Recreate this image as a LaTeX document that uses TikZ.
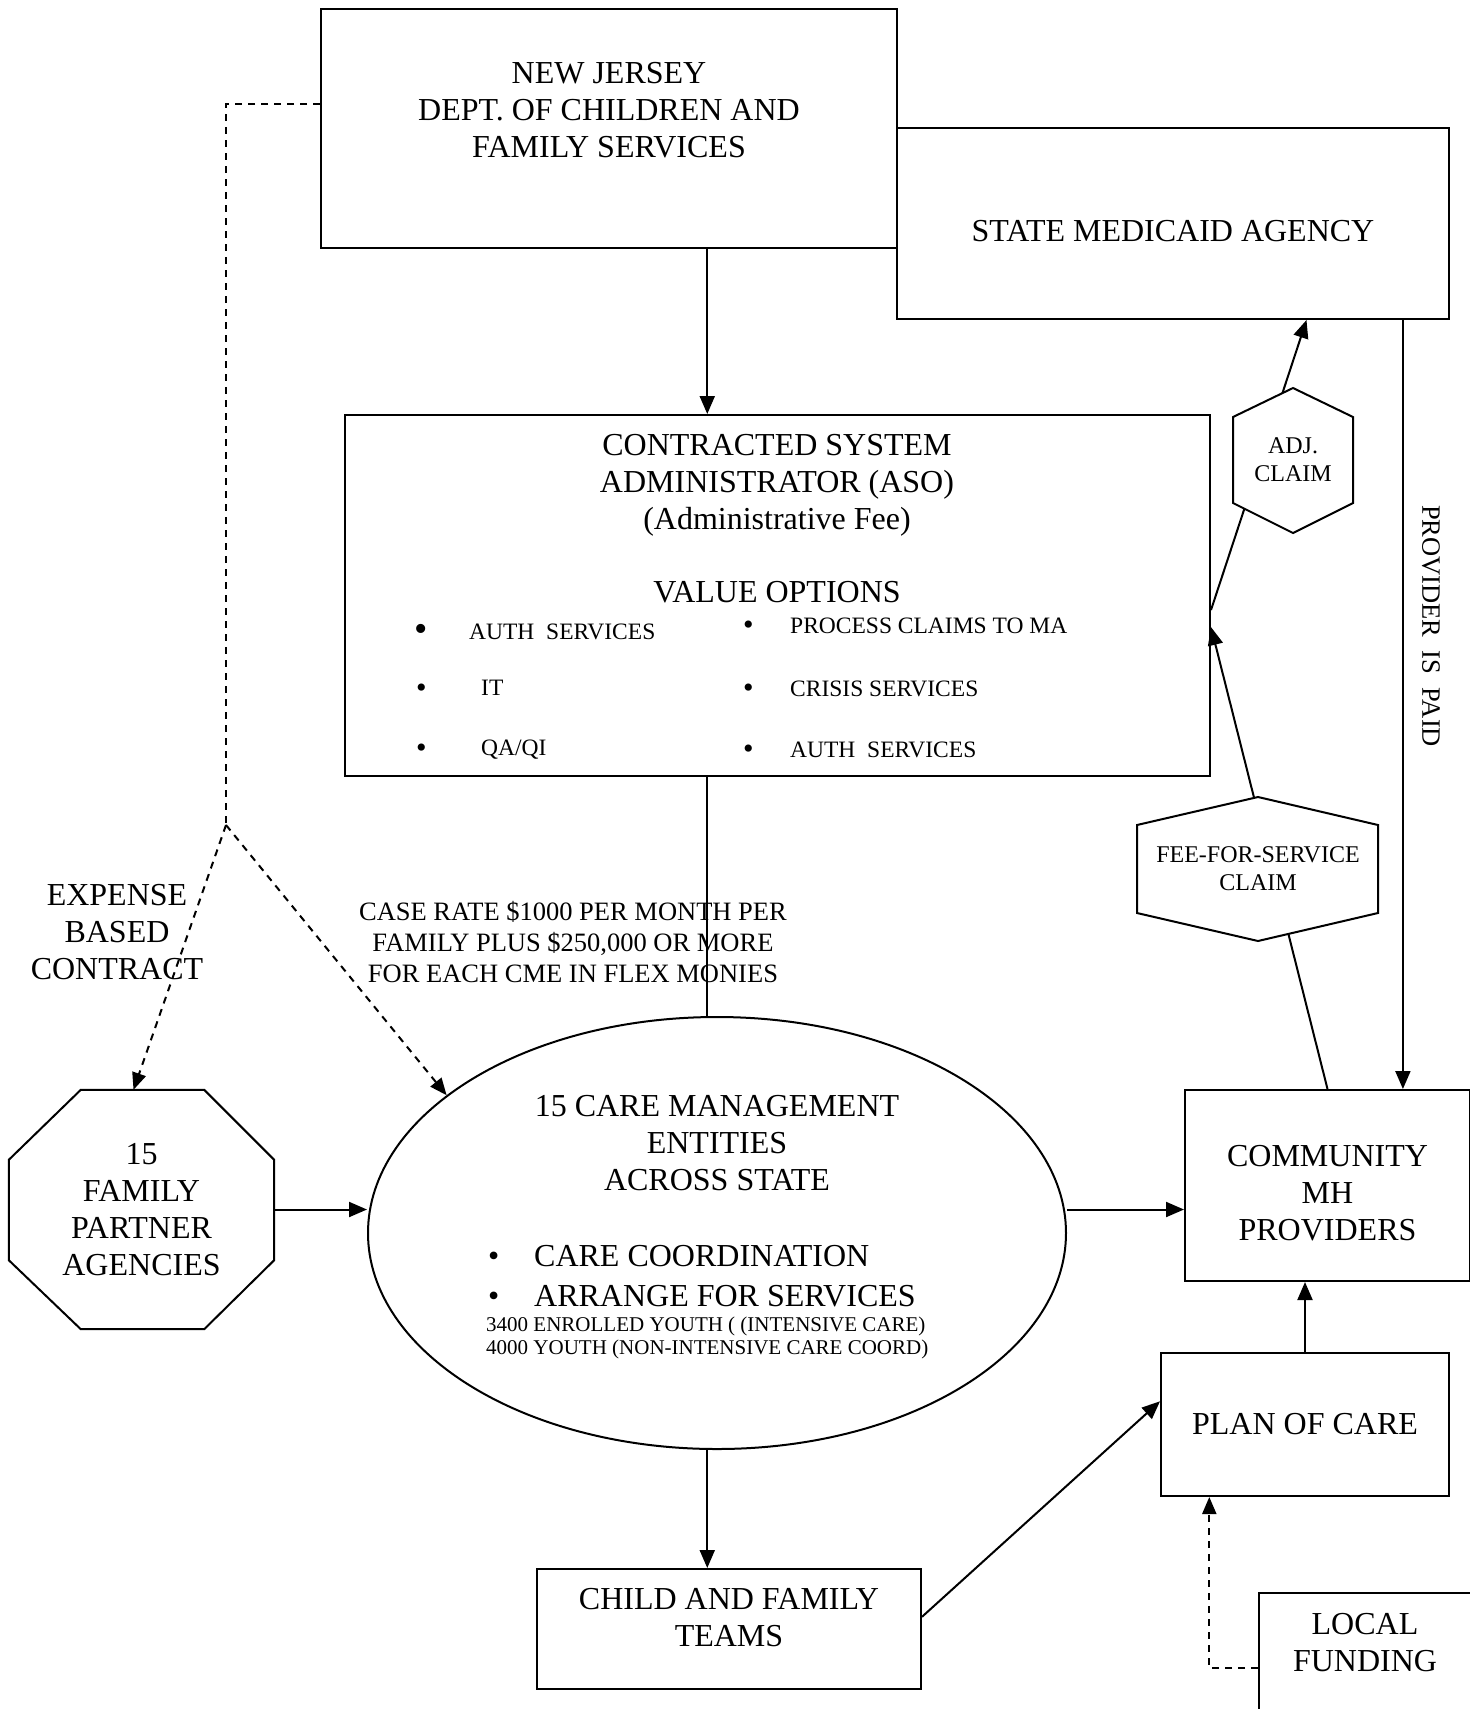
\documentclass[tikz,border=0pt]{standalone}
\usepackage{fontspec}
\setmainfont{Liberation Serif}
\usetikzlibrary{arrows.meta,shapes.geometric,calc}
\newcommand{\bigtxt}{\fontsize{32}{37}\selectfont}
\newcommand{\midtxt}{\fontsize{24}{28}\selectfont}
\newcommand{\listtxt}{\fontsize{23.5}{27}\selectfont}
\newcommand{\ratetxt}{\fontsize{26.5}{31}\selectfont}
\newcommand{\youthtxt}{\fontsize{21}{23}\selectfont}
\newcommand{\paidtxt}{\fontsize{26.5}{30}\selectfont}
\newcommand{\dotmark}[1]{{\fontsize{#1}{#1}\selectfont\raisebox{-0.05em}{\textbullet}}}

\begin{document}
\begin{tikzpicture}[
  x=1pt, y=-1pt,
  box/.style={draw, fill=white, line width=2pt, align=center, inner sep=0pt, font=\bigtxt},
  txt/.style={align=center, inner sep=0pt, font=\bigtxt},
  item/.style={anchor=west, inner sep=0pt, font=\listtxt},
  link/.style={line width=2pt},
  arrow/.style={link, -{Triangle[length=18pt,width=15pt]}},
  dashlink/.style={link, dash pattern=on 7pt off 6pt},
  dasharrow/.style={dashlink, -{Triangle[length=17pt,width=14pt]}},
  hexbox/.style={draw, fill=white, line width=2pt}
]
\useasboundingbox (0,0) rectangle (1470,1709);

% boxes
\node[box, minimum width=576, minimum height=239] (dcf) at (609,128.5) {NEW JERSEY\\DEPT. OF CHILDREN AND\\FAMILY SERVICES\\\mbox{}};
\node[box, minimum width=552, minimum height=191] (medicaid) at (1173,223.5) {\mbox{}\\STATE MEDICAID AGENCY};
\node[box, minimum width=865, minimum height=361] (aso) at (777.5,595.5) {};
\node[box, minimum width=285, minimum height=191] (community) at (1327.5,1185.5) {\mbox{}\\COMMUNITY\\MH\\PROVIDERS};
\node[box, minimum width=288, minimum height=143] (plan) at (1305,1424.5) {PLAN OF CARE};
\node[box, minimum width=384, minimum height=120] (cft) at (729,1629) {CHILD AND FAMILY\\TEAMS\\[-14pt]\mbox{}};
\node[box, minimum width=212, minimum height=150] (local) at (1365,1668) {LOCAL\\FUNDING\\[15pt]\mbox{}};
\node[draw, ellipse, line width=2pt, minimum width=698, minimum height=432, inner sep=0pt] (cme) at (717,1233) {};
\node[txt, minimum width=265, minimum height=239] (fpa) at (141.5,1209.5) {15\\FAMILY\\PARTNER\\AGENCIES};
\draw[link] ($(fpa.north west)+(72,0)$) -- ($(fpa.north east)+(-70,0)$) -- ($(fpa.north east)+(0,70)$)
  -- ($(fpa.south east)+(0,-69)$) -- ($(fpa.south east)+(-70,0)$) -- ($(fpa.south west)+(72,0)$)
  -- ($(fpa.south west)+(0,-69)$) -- ($(fpa.north west)+(0,70)$) -- cycle;

% ASO contents
\node[txt] (asohead) at (777,518.5) {CONTRACTED SYSTEM\\ADMINISTRATOR (ASO)\\(Administrative Fee)\\[36pt]VALUE OPTIONS};
\node[item] (auth) at (414,633) {\makebox[55pt][l]{\dotmark{38}}AUTH\ \ SERVICES};
\node[item] (it) at (416,689) {\makebox[65pt][l]{\dotmark{30}}IT};
\node[item] (qa) at (416,750) {\makebox[65pt][l]{\dotmark{30}}QA/QI};
\node[item] (claims) at (743,626) {\makebox[47pt][l]{\dotmark{30}}PROCESS CLAIMS TO MA};
\node[item] (crisis) at (743,689) {\makebox[47pt][l]{\dotmark{30}}CRISIS SERVICES};
\node[item] (authsvc) at (743,750) {\makebox[47pt][l]{\dotmark{30}}AUTH\ \ SERVICES};

% CME contents
\node[txt] (cmehead) at (717,1143.5) {15 CARE MANAGEMENT\\ENTITIES\\ACROSS STATE};
\node[item, font=\bigtxt] (coord) at (488,1256) {\makebox[46pt][l]{\textbullet}CARE COORDINATION};
\node[item, font=\bigtxt] (arrange) at (488,1296) {\makebox[46pt][l]{\textbullet}ARRANGE FOR SERVICES};
\node[item, font=\youthtxt, align=left] (youth) at (486,1338) {3400 ENROLLED YOUTH ( (INTENSIVE CARE)\\4000 YOUTH (NON-INTENSIVE CARE COORD)};

% free labels
\node[txt] (expense) at (117,932.5) {EXPENSE\\BASED\\CONTRACT};
\node[txt, font=\ratetxt] (rate) at (573,942) {CASE RATE \$1000 PER MONTH PER\\FAMILY PLUS \$250,000 OR MORE\\FOR EACH CME IN FLEX MONIES};
\node[txt, font=\paidtxt, rotate=-90] (paid) at (1431,626) {PROVIDER\ \ IS\ \ PAID};

% connectors
\coordinate (stem) at ($(dcf.south west)!0.67!(dcf.south east)$);
\draw[arrow] (stem) -- (stem |- aso.north);
\draw[link] (stem |- aso.south) -- (stem |- cme.north);
\draw[arrow] (stem |- cme.south) -- (stem |- cft.north);
\draw[arrow] (fpa.east) -- (fpa.east -| cme.west);
\draw[arrow] (cme.east |- fpa.east) -- (community.west |- fpa.east);
\draw[arrow] ($(cft.north east)!0.4!(cft.south east)$) -- ($(plan.north west)!0.34!(plan.south west)$);
\draw[arrow] (plan.north) -- (plan.north |- community.south);
\coordinate (planin) at ($(plan.south west)!0.17!(plan.south east)$);
\draw[dasharrow] (local.west) -| (planin);
\coordinate (paidtop) at ($(medicaid.south west)!0.915!(medicaid.south east)$);
\draw[arrow] (paidtop) -- (paidtop |- community.north);

% contract lines
\coordinate (split) at (226,825);
\draw[dashlink] ($(dcf.north west)!0.4!(dcf.south west)$) -| (split);
\draw[dasharrow] (split) -- ($(fpa.north)+(-8,0)$);
\draw[dasharrow] (split) -- (cme.153);

% claims
\draw[arrow] (community.north) -- ($(aso.north east)!0.587!(aso.south east)$);
\draw[arrow] ($(aso.north east)!0.54!(aso.south east)$) -- ($(medicaid.south west)!0.741!(medicaid.south east)$);
\coordinate (adjc) at (1293,460);
\draw[hexbox] ($(adjc)+(0,-72)$) -- ++(60,29) -- ++(0,86) -- ++(-60,30) -- ++(-60,-30) -- ++(0,-86) -- cycle;
\node[txt, font=\midtxt] (adj) at (adjc) {ADJ.\\CLAIM};
\coordinate (ffsc) at (1258,869);
\draw[hexbox] ($(ffsc)+(0,-72)$) -- ++(120,28) -- ++(0,88) -- ++(-120,28) -- ++(-121,-28) -- ++(0,-88) -- cycle;
\node[txt, font=\midtxt] (ffs) at (ffsc) {FEE-FOR-SERVICE\\CLAIM};
\end{tikzpicture}
\end{document}
